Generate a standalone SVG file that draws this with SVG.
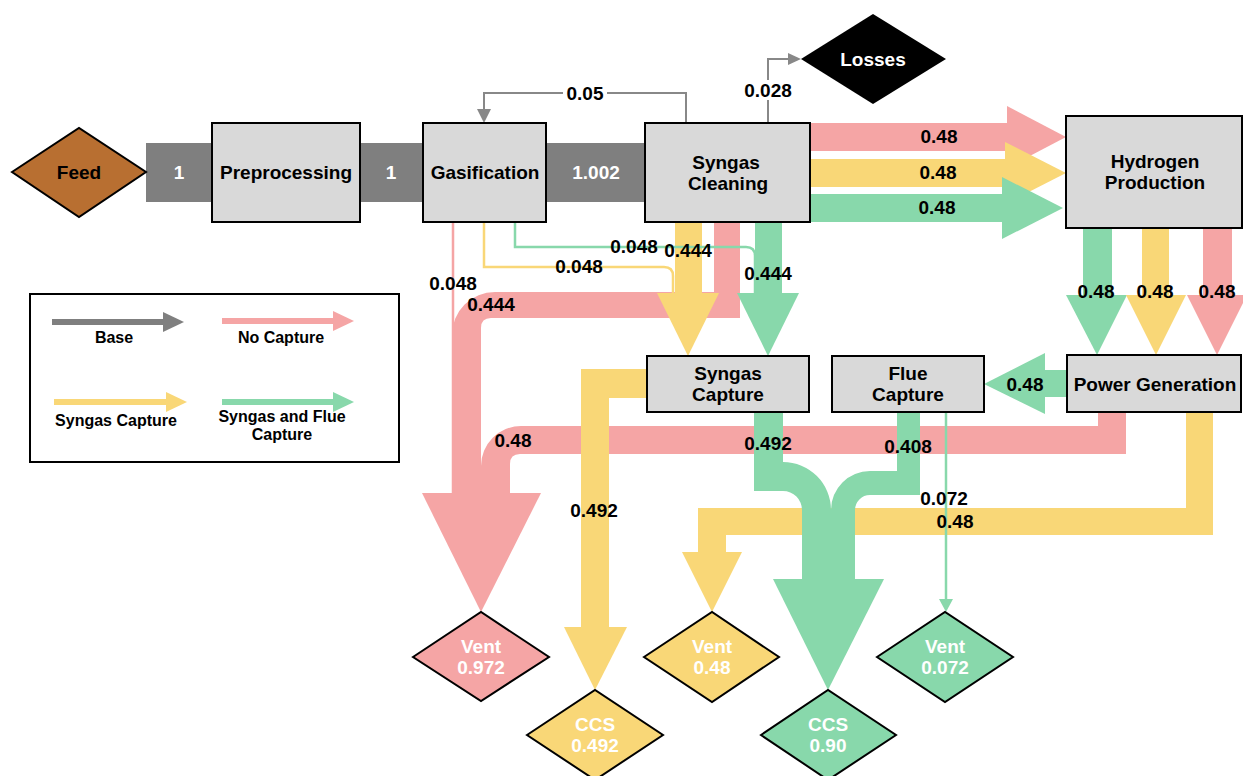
<svg xmlns="http://www.w3.org/2000/svg" width="1243" height="776" viewBox="0 0 1243 776">
  <style>
    .box { fill: #d9d9d9; stroke: #000; stroke-width: 2; }
    .lbl { font-family: "Liberation Sans", Arial, sans-serif; font-weight: bold; font-size: 19px; text-anchor: middle; fill: #000; }
    .wl { fill: #fff; }
    .leg { font-size: 16px; }
    .red { fill: #f5a5a5; }
    .yel { fill: #f9d777; }
    .grn { fill: #88d8ab; }
    .gry { fill: #7f7f7f; }
    .thin { fill: none; stroke-width: 2.5; }
    .gline { fill: none; stroke: #888; stroke-width: 2; }
  </style>
  <rect width="1243" height="776" fill="#fff"/>

  <g id="connectors">
    <!-- base stream bands -->
    <rect class="gry" x="146" y="143" width="66" height="59"/>
    <rect class="gry" x="360" y="143" width="63" height="59"/>
    <rect class="gry" x="546" y="143" width="99" height="59"/>
    <text class="lbl wl" x="179" y="179">1</text>
    <text class="lbl wl" x="391" y="179">1</text>
    <text class="lbl wl" x="596" y="179">1.002</text>

    <!-- recycle loop -->
    <path class="gline" d="M686 123 V93 H484 V110"/>
    <polygon fill="#888" points="477,109 491,109 484,123"/>
    <rect x="563" y="84" width="44" height="19" fill="#fff"/>
    <text class="lbl" x="585" y="100">0.05</text>

    <!-- losses -->
    <path class="gline" d="M768 123 V59 H790"/>
    <polygon fill="#888" points="788,53 801,59 788,65"/>
    <rect x="743" y="80" width="51" height="20" fill="#fff"/>
    <text class="lbl" x="768" y="97">0.028</text>

    <!-- cleaning to hydrogen -->
    <rect class="red" x="810" y="123" width="197" height="28"/>
    <polygon class="red" points="1007,106 1007,168 1066,137"/>
    <rect class="yel" x="810" y="159" width="195" height="28"/>
    <polygon class="yel" points="1005,142 1005,204 1066,173"/>
    <rect class="grn" x="810" y="194" width="192" height="28"/>
    <polygon class="grn" points="1002,177 1002,239 1063,208"/>
    <text class="lbl" x="939" y="143">0.48</text>
    <text class="lbl" x="938" y="179">0.48</text>
    <text class="lbl" x="937" y="214">0.48</text>

    <!-- hydrogen to power generation -->
    <rect class="grn" x="1083" y="228" width="29" height="67"/>
    <polygon class="grn" points="1066,295 1127,295 1097,355"/>
    <rect class="yel" x="1142" y="228" width="27" height="67"/>
    <polygon class="yel" points="1126,295 1186,295 1156,355"/>
    <rect class="red" x="1203" y="228" width="29" height="67"/>
    <polygon class="red" points="1187,295 1247,295 1217,355"/>
    <text class="lbl" x="1096" y="298">0.48</text>
    <text class="lbl" x="1155" y="298">0.48</text>
    <text class="lbl" x="1217" y="298">0.48</text>

    <!-- no capture venting -->
    <path class="red" d="M740 222 V318 H491 Q481 318 481 328 V493 H452 V335 A43 43 0 0 1 495 292 H714 V222 Z"/>
    <path class="red" d="M1098 412 H1126 V454 H520 Q510 454 510 464 V493 H481 V466 A40 40 0 0 1 521 426 H1098 Z"/>
    <path class="thin" stroke="#f5a5a5" stroke-width="2" d="M453 222 V493"/>
    <polygon class="red" points="422,493 541,493 481,612"/>

    <!-- syngas capture feeds -->
    <path class="thin" stroke="#f9d777" d="M484 222 V267 H664 Q673 267 673 276 V295"/>
    <rect class="yel" x="675" y="222" width="27" height="72"/>
    <polygon class="yel" points="657,293 719,293 688,356"/>
    <path class="thin" stroke="#88d8ab" d="M515 222 V247 H746 Q755 247 755 256 V295"/>
    <rect class="grn" x="755" y="222" width="27" height="72"/>
    <polygon class="grn" points="737,293 799,293 768,356"/>
    <text class="lbl" x="453" y="290">0.048</text>
    <text class="lbl" x="491" y="311">0.444</text>
    <text class="lbl" x="579" y="273">0.048</text>
    <text class="lbl" x="634" y="253">0.048</text>
    <text class="lbl" x="688" y="257">0.444</text>
    <text class="lbl" x="768" y="280">0.444</text>

    <!-- syngas capture to CCS -->
    <path class="yel" d="M647 369 V398 H609 V627 H581 V369 Z"/>
    <polygon class="yel" points="564,627 627,627 595,690"/>
    <text class="lbl" x="594" y="517">0.492</text>

    <!-- power generation to vent -->
    <path class="yel" d="M1186 412 H1213 V535 H726 V552 H698 V508 H1186 Z"/>
    <polygon class="yel" points="682,552 742,552 712,612"/>

    <!-- power generation to flue capture -->
    <rect class="grn" x="1044" y="370" width="24" height="27"/>
    <polygon class="grn" points="1045,353 1045,414 984,384"/>
    <text class="lbl" x="1025" y="391">0.48</text>

    <!-- combined capture to CCS -->
    <path class="grn" d="M754 412 H783 V462 A48 48 0 0 1 831 510 V579 H802 V510 A19 19 0 0 0 783 491 H754 Z"/>
    <path class="grn" d="M897 412 H920 V495 H870 A15 15 0 0 0 855 510 V579 H831 V510 A39 39 0 0 1 870 471 H897 Z"/>
    <polygon class="grn" points="773,579 884,579 828,690"/>
    <path class="thin" stroke="#88d8ab" stroke-width="2.5" d="M946 412 V600"/>
    <polygon class="grn" points="939,599 953,599 946,612"/>

    <text class="lbl" x="513" y="447">0.48</text>
    <text class="lbl" x="768" y="450">0.492</text>
    <text class="lbl" x="908" y="453">0.408</text>
    <text class="lbl" x="944" y="505">0.072</text>
    <text class="lbl" x="955" y="528">0.48</text>
  </g>

  <g id="feed">
    <polygon points="12,172 79,128 146,172 79,217" fill="#b86f31" stroke="#000" stroke-width="2"/>
    <text class="lbl" x="79" y="179">Feed</text>
  </g>
  <g id="preprocessing">
    <rect class="box" x="212" y="123" width="148" height="99"/>
    <text class="lbl" x="286" y="179">Preprocessing</text>
  </g>
  <g id="gasification">
    <rect class="box" x="423" y="123" width="123" height="99"/>
    <text class="lbl" x="485" y="179">Gasification</text>
  </g>
  <g id="syngas-cleaning">
    <rect class="box" x="645" y="123" width="165" height="99"/>
    <text class="lbl" x="726" y="169">Syngas</text>
    <text class="lbl" x="728" y="190">Cleaning</text>
  </g>
  <g id="losses">
    <polygon points="801,59 873,14 946,59 873,104" fill="#000"/>
    <text class="lbl wl" x="873" y="66">Losses</text>
  </g>
  <g id="hydrogen-production">
    <rect class="box" x="1066" y="116" width="176" height="112"/>
    <text class="lbl" x="1155" y="168">Hydrogen</text>
    <text class="lbl" x="1155" y="189">Production</text>
  </g>
  <g id="power-generation">
    <rect class="box" x="1067" y="355" width="174" height="57"/>
    <text class="lbl" x="1155" y="391">Power Generation</text>
  </g>
  <g id="flue-capture">
    <rect class="box" x="832" y="356" width="152" height="56"/>
    <text class="lbl" x="908" y="380">Flue</text>
    <text class="lbl" x="908" y="401">Capture</text>
  </g>
  <g id="syngas-capture">
    <rect class="box" x="647" y="356" width="162" height="56"/>
    <text class="lbl" x="728" y="380">Syngas</text>
    <text class="lbl" x="728" y="401">Capture</text>
  </g>
  <g id="vent-no-capture">
    <polygon points="413,657 481,612 549,657 481,701" fill="#f5a5a5" stroke="#000" stroke-width="2"/>
    <text class="lbl wl" x="481" y="653">Vent</text>
    <text class="lbl wl" x="481" y="674">0.972</text>
  </g>
  <g id="ccs-syngas">
    <polygon points="527,735 595,690 663,735 595,780" fill="#f9d777" stroke="#000" stroke-width="2"/>
    <text class="lbl wl" x="595" y="731">CCS</text>
    <text class="lbl wl" x="595" y="752">0.492</text>
  </g>
  <g id="vent-syngas">
    <polygon points="644,657 712,612 779,657 712,702" fill="#f9d777" stroke="#000" stroke-width="2"/>
    <text class="lbl wl" x="712" y="653">Vent</text>
    <text class="lbl wl" x="712" y="674">0.48</text>
  </g>
  <g id="ccs-combined">
    <polygon points="761,735 828,690 896,735 828,780" fill="#88d8ab" stroke="#000" stroke-width="2"/>
    <text class="lbl wl" x="828" y="731">CCS</text>
    <text class="lbl wl" x="828" y="752">0.90</text>
  </g>
  <g id="vent-combined">
    <polygon points="877,657 945,612 1013,657 945,702" fill="#88d8ab" stroke="#000" stroke-width="2"/>
    <text class="lbl wl" x="945" y="653">Vent</text>
    <text class="lbl wl" x="945" y="674">0.072</text>
  </g>

  <g id="legend">
    <rect x="30" y="294" width="369" height="168" fill="#fff" stroke="#000" stroke-width="2"/>
    <rect class="gry" x="52" y="319" width="112" height="6"/>
    <polygon class="gry" points="163,312 184,322 163,332"/>
    <text class="lbl leg" x="114" y="343">Base</text>
    <rect class="red" x="222" y="318" width="112" height="6"/>
    <polygon class="red" points="333,311 354,321 333,331"/>
    <text class="lbl leg" x="281" y="343">No Capture</text>
    <rect class="yel" x="54" y="399" width="113" height="6"/>
    <polygon class="yel" points="166,392 187,402 166,412"/>
    <text class="lbl leg" x="116" y="426">Syngas Capture</text>
    <rect class="grn" x="222" y="399" width="112" height="6"/>
    <polygon class="grn" points="333,392 354,402 333,412"/>
    <text class="lbl leg" x="282" y="422">Syngas and Flue</text>
    <text class="lbl leg" x="282" y="440">Capture</text>
  </g>
</svg>
